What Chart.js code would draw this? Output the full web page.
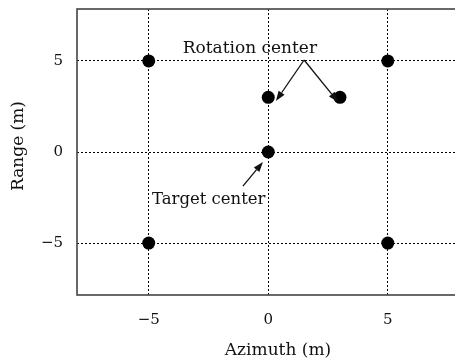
<!DOCTYPE html>
<html>
<head>
<meta charset="utf-8">
<script src="https://cdn.jsdelivr.net/npm/chart.js@4/dist/chart.umd.min.js"></script>
<style>
  html, body { margin: 0; padding: 0; background: #fff; overflow: hidden; }
  #wrap { width: 466px; height: 364px; }
</style>
</head>
<body>
<div id="wrap"><canvas id="c" width="466" height="364"></canvas></div>
<script>
// Scatterer positions (metres)
const azimuth = [-5, 5, 0, 3, 0, -5, 5];
const range   = [5, 5, 3, 3, 0, -5, -5];
const tickValues = [-5, 0, 5];
const xTitle = 'Azimuth (m)';
const yTitle = 'Range (m)';

// Callouts, in data units
const calloutLabels = ['Rotation center', 'Target center'];
const calloutLabelX = [-0.77, -2.49];
const calloutLabelY = [5.7, -2.64];
const arrowFromX = [1.5, 1.5, -1.06];
const arrowFromY = [5.05, 5.05, -1.87];
const arrowToX   = [0.32, 2.92, -0.22];
const arrowToY   = [2.8, 2.75, -0.55];

const SERIF = "'DejaVu Serif', 'Liberation Serif', serif";
const INK = '#111';

function drawArrow(ctx, x0, y0, x1, y1) {
  const ang = Math.atan2(y1 - y0, x1 - x0);
  const len = 10, half = 3.6;
  const bx = x1 - len * Math.cos(ang), by = y1 - len * Math.sin(ang);
  ctx.beginPath();
  ctx.moveTo(x0, y0);
  ctx.lineTo(bx, by);
  ctx.stroke();
  ctx.beginPath();
  ctx.moveTo(x1, y1);
  ctx.lineTo(bx + half * Math.sin(ang), by - half * Math.cos(ang));
  ctx.lineTo(bx - half * Math.sin(ang), by + half * Math.cos(ang));
  ctx.closePath();
  ctx.fill();
}

const decorations = {
  id: 'decorations',
  afterDraw(chart) {
    const { ctx, chartArea: a, scales: { x, y } } = chart;
    ctx.save();
    // plot frame
    ctx.strokeStyle = '#444';
    ctx.lineWidth = 1.6;
    ctx.setLineDash([]);
    ctx.strokeRect(a.left, a.top, a.right - a.left, a.bottom - a.top);

    // callout labels
    ctx.fillStyle = INK;
    ctx.textAlign = 'center';
    ctx.textBaseline = 'middle';
    calloutLabels.forEach((t, i) => {
      ctx.font = (i === 0 ? '17px ' : '16.5px ') + SERIF;
      ctx.fillText(t, x.getPixelForValue(calloutLabelX[i]), y.getPixelForValue(calloutLabelY[i]));
    });

    // callout arrows
    ctx.strokeStyle = INK;
    ctx.lineWidth = 1.3;
    arrowFromX.forEach((fx, i) => {
      drawArrow(ctx,
        x.getPixelForValue(fx), y.getPixelForValue(arrowFromY[i]),
        x.getPixelForValue(arrowToX[i]), y.getPixelForValue(arrowToY[i]));
    });

    // axis titles
    ctx.font = '17px ' + SERIF;
    ctx.fillText(xTitle, 278, 351);
    ctx.translate(19, 146);
    ctx.rotate(-Math.PI / 2);
    ctx.fillText(yTitle, 0, 0);
    ctx.restore();
  }
};

const minusSign = v => String(v).replace('-', '\u2212');

const axisCommon = {
  type: 'linear',
  afterBuildTicks: s => { s.ticks = tickValues.map(v => ({ value: v })); },
  grid: { color: '#000', lineWidth: 1, drawTicks: false },
  border: { display: false, dash: [2, 2] },
  ticks: { color: INK, font: { family: SERIF, size: 15 }, callback: minusSign }
};

// keep the plot area fixed: no extra room reserved for edge labels
function clearPadding(s) {
  s.paddingTop = 0; s.paddingBottom = 0; s.paddingLeft = 0; s.paddingRight = 0;
}

new Chart(document.getElementById('c'), {
  type: 'scatter',
  data: {
    datasets: [{
      data: azimuth.map((v, i) => ({ x: v, y: range[i] })),
      backgroundColor: '#000',
      borderWidth: 0,
      pointRadius: 6.5,
      pointHoverRadius: 6.5
    }]
  },
  options: {
    responsive: false,
    animation: false,
    events: [],
    layout: { padding: { top: 9, right: 0, left: 0, bottom: 0 } },
    plugins: { legend: { display: false }, tooltip: { enabled: false } },
    scales: {
      x: Object.assign({}, axisCommon, {
        min: -8, max: 8,
        ticks: Object.assign({}, axisCommon.ticks, { padding: 16 }),
        afterFit: s => { s.height = 69; clearPadding(s); }
      }),
      y: Object.assign({}, axisCommon, {
        min: -7.85, max: 7.85,
        ticks: Object.assign({}, axisCommon.ticks, { padding: 14 }),
        afterFit: s => { s.width = 77; clearPadding(s); }
      })
    }
  },
  plugins: [decorations]
});
</script>
</body>
</html>
